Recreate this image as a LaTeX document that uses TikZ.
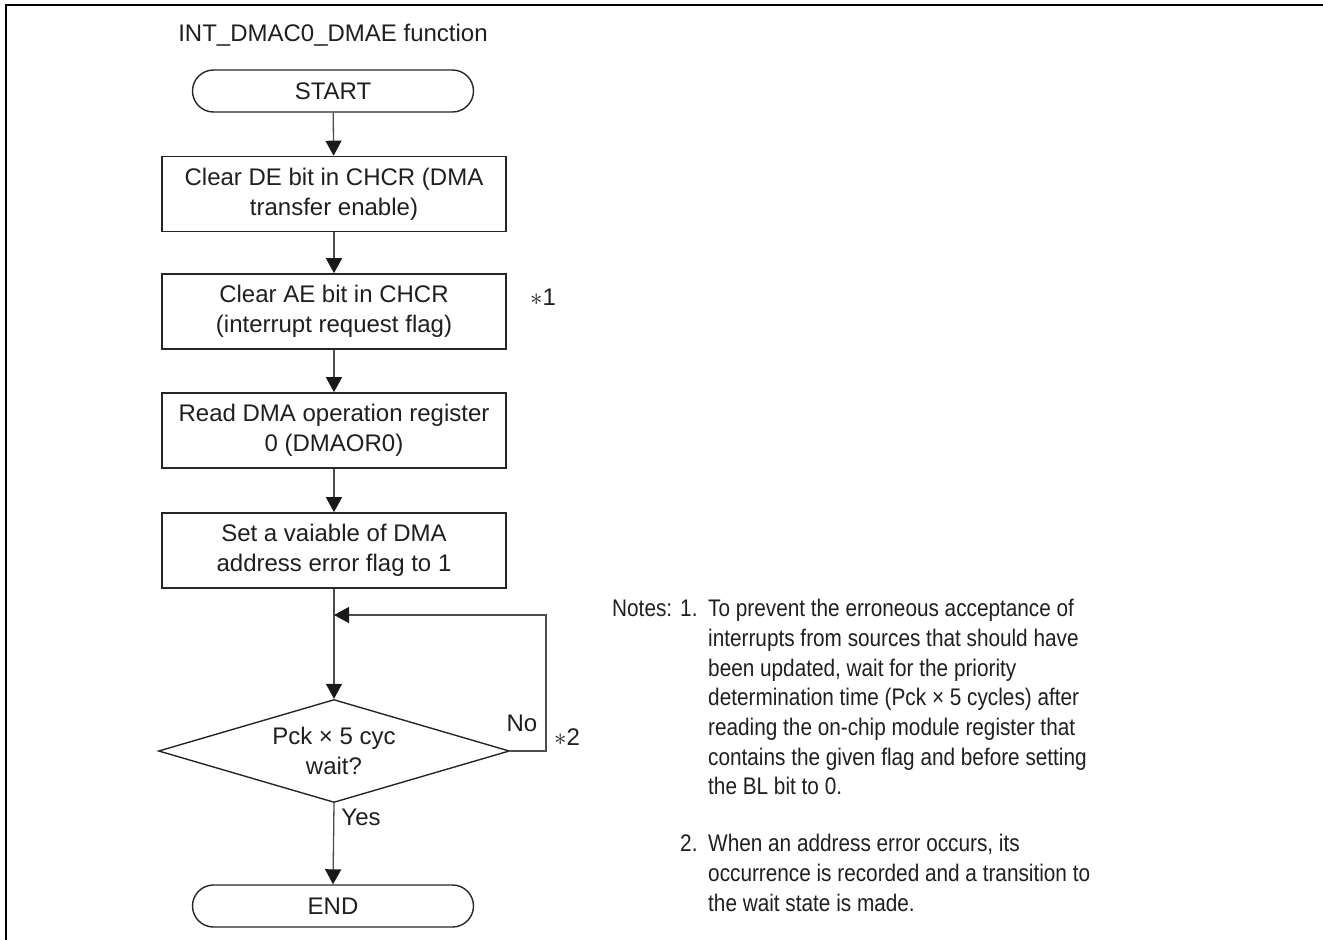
\documentclass[tikz,border=0pt]{standalone}
\usepackage{fontspec}
\setmainfont{Liberation Sans}
\newfontfamily\notefont[FakeStretch=0.865]{Liberation Sans}
\usetikzlibrary{arrows.meta,shapes.geometric}
\begin{document}
\begin{tikzpicture}[x=1pt,y=-1pt,
  every node/.style={font=\fontsize{24}{29.7}\selectfont, text=black!88, inner sep=0pt},
  note/.style={font=\notefont\fontsize{24}{29.7}\selectfont},
  proc/.style={draw=black!85, line width=1.6pt, minimum width=344pt, minimum height=75pt, align=center},
  term/.style={draw=black!85, line width=1.4pt, rounded corners=21pt, minimum width=281pt, minimum height=42pt},
  decision/.style={draw=black!85, line width=1.4pt, diamond, aspect=3.4, minimum width=351pt, minimum height=103pt, align=center},
  flow/.style={draw=black!70, line width=1.3pt, -{Triangle[length=15pt,width=16pt,color=black!90]}},
  frame/.style={draw=black, line width=2.6pt}
]
\useasboundingbox (0,0) rectangle (1323,940);
\coordinate (fa) at (6,940);
\coordinate (fb) at (6,5);
\coordinate (fc) at (1323,5);
\draw[frame] (fa) -- (fb) -- (fc);

\node (title) at (333,35) {INT\_DMAC0\_DMAE function};
\node[term] (start) at (333,91) {START};
\node[proc] (b1) at (334,194) {Clear DE bit in CHCR (DMA\\transfer enable)};
\node[proc] (b2) at (334,311.5) {Clear AE bit in CHCR\\(interrupt request flag)};
\node[proc] (b3) at (334,430.5) {Read DMA operation register\\0 (DMAOR0)};
\node[proc] (b4) at (334,550.5) {Set a vaiable of DMA\\address error flag to 1};
\node[decision] (dec) at (334,751) {Pck × 5 cyc\\wait?};
\node[term] (end) at (333,906) {END};

\node (n1) at (543,297) {$\ast$1};
\node (n2) at (567,737) {$\ast$2};
\node (no) at (522,723) {No};
\node (yes) at (361,817) {Yes};

\coordinate (j) at (dec.north |- 0,615);
\coordinate (r1) at (546,751);
\coordinate (r2) at (546,615);

\draw[flow] (start) -- (b1);
\draw[flow] (b1) -- (b2);
\draw[flow] (b2) -- (b3);
\draw[flow] (b3) -- (b4);
\draw[flow] (b4.south) -- (dec.north);
\draw[flow] (dec.east) -- (r1) -- (r2) -- (j);
\draw[flow] (dec.south) -- (end.north);

\node[note, anchor=base west] (notes) at (612,616) {Notes:};
\node[note, anchor=base west] (num1) at (680,616) {1.};
\node[note, anchor=north west, align=left] (t1) at (708,599) {To prevent the erroneous acceptance of\\interrupts from sources that should have\\been updated, wait for the priority\\determination time (Pck × 5 cycles) after\\reading the on-chip module register that\\contains the given flag and before setting\\the BL bit to 0.};
\node[note, anchor=base west] (num2) at (680,851) {2.};
\node[note, anchor=north west, align=left] (t2) at (708,834) {When an address error occurs, its\\occurrence is recorded and a transition to\\the wait state is made.};
\end{tikzpicture}
\end{document}
